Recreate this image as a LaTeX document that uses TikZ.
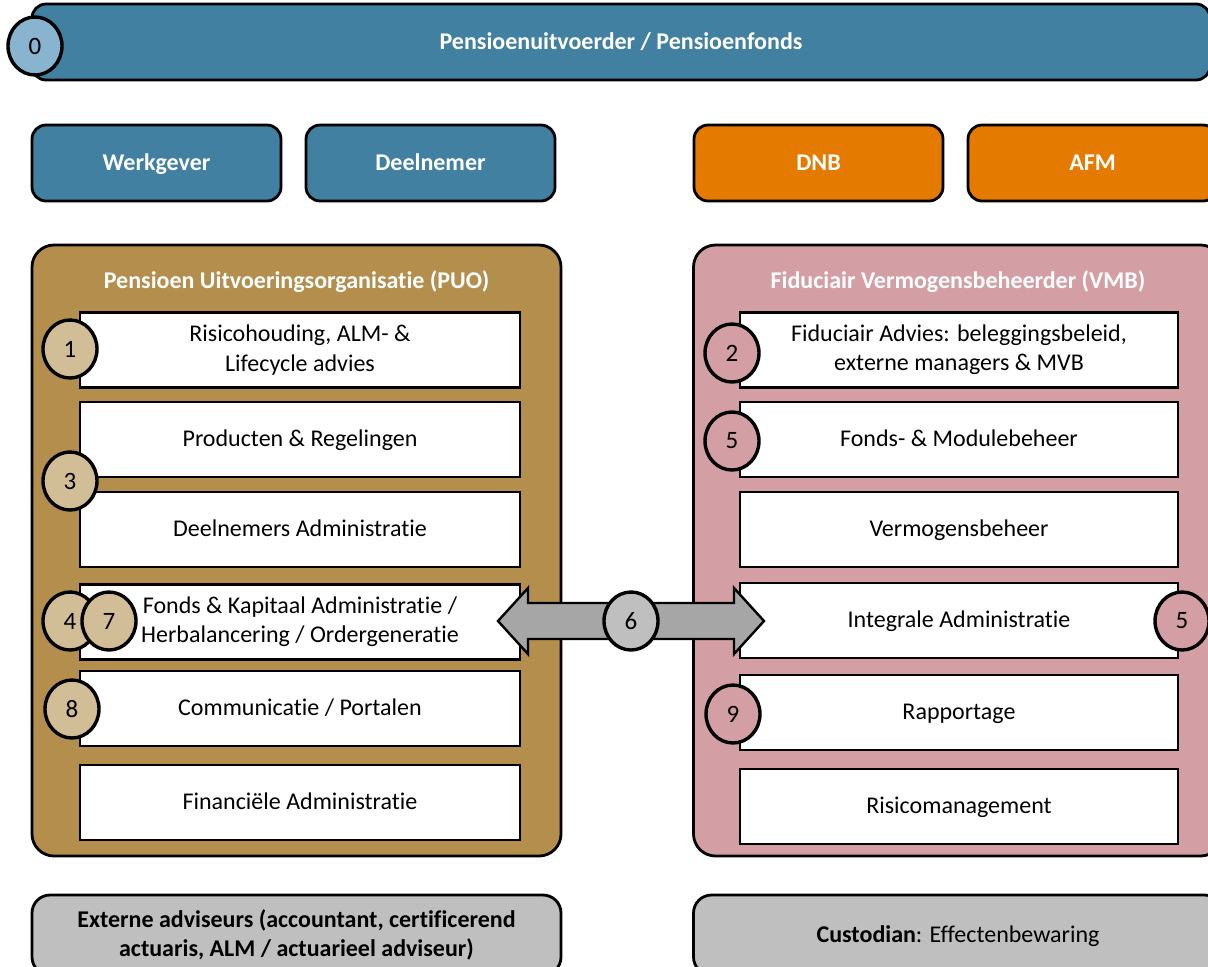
\documentclass[tikz,border=0pt]{standalone}
\usepackage{fontspec}
\setmainfont{Carlito}[Ligatures=NoCommon]
\usetikzlibrary{calc,shapes.geometric}
\definecolor{puoblue}{RGB}{65,128,160}
\definecolor{lightblue}{RGB}{136,180,207}
\definecolor{toezicht}{RGB}{228,122,0}
\definecolor{puogold}{RGB}{180,142,77}
\definecolor{puotan}{RGB}{210,190,150}
\definecolor{vmbpink}{RGB}{211,159,164}
\definecolor{extgray}{RGB}{191,191,191}
\definecolor{arrgray}{RGB}{166,166,166}
\tikzset{
  block/.style={draw=black, line width=1.4pt, rounded corners=7pt, align=center, font=\fontsize{12}{14.6}\selectfont\bfseries},
  oneline/.style={text height=1.9ex, text depth=0.4ex},
  duo/.style={text height={}, text depth={}},
  topbar/.style={block, oneline, fill=puoblue, text=white, minimum width=589pt, minimum height=38pt},
  party/.style={block, oneline, fill=puoblue, text=white, minimum width=124.5pt, minimum height=38pt},
  toez/.style={block, oneline, fill=toezicht, text=white, minimum width=124.5pt, minimum height=38pt},
  frame/.style={block, rounded corners=11pt, minimum width=264.5pt, minimum height=305.5pt},
  task/.style={draw=black, line width=1.1pt, fill=white, align=center, oneline, minimum width=220pt, minimum height=37.5pt, font=\fontsize{12}{14.6}\selectfont},
  extern/.style={block, fill=extgray, text=black, rounded corners=9pt, minimum width=264.5pt, minimum height=40pt},
  num/.style={ellipse, draw=black, line width=1.7pt, minimum width=27pt, minimum height=29pt, inner sep=0pt, font=\fontsize{12.5}{14}\selectfont},
}
\begin{document}
\begin{tikzpicture}[x=0.5pt, y=-0.5pt]
  \useasboundingbox (0,0) rectangle (1208,966);
  \clip (0,0) rectangle (1208,966);
  \node[topbar] (b0) at (621,42) {Pensioenuitvoerder / Pensioenfonds};
  \node[num, fill=lightblue] (c0) at (35,46) {0};

  \node[party] (w1) at (156.5,163) {Werkgever};
  \node[party] (w2) at (430.5,163) {Deelnemer};
  \node[toez] (t1) at (818.5,163) {DNB};
  \node[toez] (t2) at (1092.5,163) {AFM};

  \node[frame, fill=puogold] (puo) at (296.5,550.5) {};
  \node[text=white, font=\fontsize{12}{14.6}\selectfont\bfseries, oneline] (puot) at (296.5,281) {Pensioen Uitvoeringsorganisatie (PUO)};
  \node[task, duo] (p1) at (300,350) {Risicohouding, ALM- \&\\Lifecycle advies};
  \node[task] (p2) at (300,439.5) {Producten \& Regelingen};
  \node[task] (p3) at (300,529.5) {Deelnemers Administratie};
  \node[task, duo] (p4) at (300,622) {Fonds \& Kapitaal Administratie /\\Herbalancering / Ordergeneratie};
  \node[task] (p5) at (300,708.5) {Communicatie / Portalen};
  \node[task] (p6) at (300,802.5) {Financiële Administratie};

  \node[frame, fill=vmbpink] (vmb) at (958,550.5) {};
  \node[text=white, font=\fontsize{12}{14.6}\selectfont\bfseries, oneline] (vmbt) at (958,281) {Fiduciair Vermogensbeheerder (VMB)};
  \node[task, duo, minimum width=219pt] (v1) at (959,350) {Fiduciair Advies: beleggingsbeleid,\\externe managers \& MVB};
  \node[task, minimum width=219pt] (v2) at (959,439.5) {Fonds- \& Modulebeheer};
  \node[task, minimum width=219pt] (v3) at (959,529.5) {Vermogensbeheer};
  \node[task, minimum width=219pt] (v4) at (959,620.5) {Integrale Administratie};
  \node[task, minimum width=219pt] (v5) at (959,712.5) {Rapportage};
  \node[task, minimum width=219pt] (v6) at (959,806.5) {Risicomanagement};

  \node[num, fill=puotan] (c1) at (70,349) {1};
  \node[num, fill=puotan] (c3) at (70,481) {3};
  \node[num, fill=puotan] (c4) at (70,621) {4};
  \node[num, fill=puotan] (c7) at (109,621) {7};
  \node[num, fill=puotan] (c8) at (72,709) {8};

  \node[num, fill=vmbpink] (c2) at (732,353) {2};
  \node[num, fill=vmbpink] (c5) at (732,441) {5};
  \node[num, fill=vmbpink] (c5b) at (1182,621) {5};
  \node[num, fill=vmbpink] (c9) at (733,714) {9};

  \coordinate (aL) at (498,621);
  \coordinate (aR) at (764,621);
  \draw[fill=arrgray, line width=1.2pt, line join=miter]
    (aL) -- ++(30,-33) -- ++(0,15) -- ($(aR)+(-30,-18)$) -- ++(0,-15) -- (aR)
    -- ++(-30,33) -- ++(0,-15) -- ($(aL)+(30,18)$) -- ++(0,15) -- cycle;
  \node[num, fill=extgray] (c6) at ($(aL)!0.5!(aR)$) {6};

  \node[extern] (e1) at (296.5,935) {Externe adviseurs (accountant, certificerend\\actuaris, ALM / actuarieel adviseur)};
  \node[extern, oneline] (e2) at (958,935) {Custodian\textmd{: Effectenbewaring}};
\end{tikzpicture}
\end{document}
